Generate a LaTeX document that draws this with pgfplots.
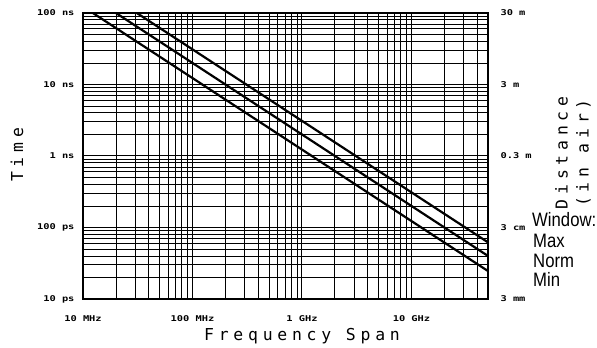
\documentclass[border=0pt]{standalone}
\usepackage{fontspec}
\usepackage{pgfplots}
\pgfplotsset{compat=1.18}
\setmainfont{Liberation Sans}
\newfontfamily\tickfont{DejaVu Sans Mono Bold}[FakeStretch=1.3]
\newfontfamily\titlefont{DejaVu Sans Mono}[LetterSpace=29]
\newfontfamily\legfont{Liberation Sans}[FakeStretch=0.86]
\begin{document}
\begin{tikzpicture}[x=1bp,y=1bp]
\path[use as bounding box] (0bp,0bp) rectangle (597bp,348bp);
\begin{axis}[at={(83bp,49bp)}, anchor=south west, width=405bp, height=286bp, scale only axis,
  xmode=log, ymode=log, xmin=10, xmax=50000, ymin=0.01, ymax=100,
  xtick={10,100,1000,10000}, xticklabels={10 MHz,100 MHz,1 GHz,10 GHz},
  ytick={0.01,0.1,1,10,100}, yticklabels={10 ps,100 ps,1 ns,10 ns,100 ns},
  minor xtick={20,30,40,50,60,70,80,90,200,300,400,500,600,700,800,900,2000,3000,4000,5000,6000,7000,8000,9000,20000,30000,40000},
  minor ytick={0.02,0.03,0.04,0.05,0.06,0.07,0.08,0.09,0.2,0.3,0.4,0.5,0.6,0.7,0.8,0.9,2,3,4,5,6,7,8,9,20,30,40,50,60,70,80,90},
  grid=both, major grid style={black, line width=1bp}, minor grid style={black, line width=0.9bp},
  major tick length=0pt, minor tick length=0pt,
  axis line style={black, line width=1.1bp},
  ticklabel style={font=\tickfont\fontsize{8}{9}\selectfont},
  xticklabel style={yshift=-13bp},
  yticklabel style={xshift=-5bp},
  clip=true]
\addplot[black, line width=2.2bp] coordinates {(12.3,100) (50000,0.0246)};
\addplot[black, line width=2.2bp] coordinates {(20,100) (50000,0.04)};
\addplot[black, line width=2.2bp] coordinates {(31,100) (50000,0.062)};
\end{axis}
\begin{axis}[at={(83bp,49bp)}, anchor=south west, width=405bp, height=286bp, scale only axis,
  ymode=log, ymin=0.01, ymax=100, xmin=0, xmax=1,
  hide x axis, axis y line*=right, axis line style={draw=none},
  ytick={0.01,0.1,1,10,100}, yticklabels={3 mm,3 cm,0.3 m,3 m,30 m},
  major tick length=0pt, minor tick length=0pt,
  ticklabel style={font=\tickfont\fontsize{8}{9}\selectfont},
  yticklabel style={anchor=west, xshift=9bp}]
\addplot[draw=none] coordinates {(0.5,1)};
\end{axis}
\node[rotate=90, font=\titlefont\fontsize{16.5}{16.5}\selectfont] at (17bp,193bp) {Time};
\node[anchor=base, font=\titlefont\fontsize{16.5}{16.5}\selectfont] at (302bp,8bp) {Frequency Span};
\node[rotate=90, align=center, font=\titlefont\fontsize{16.5}{21}\selectfont] at (573bp,195bp) {Distance\\(in air)};
\node[anchor=base west, inner sep=0pt, font=\legfont\fontsize{19.5}{20}\selectfont] at (532bp,121bp) {Window:};
\node[anchor=base west, inner sep=0pt, font=\legfont\fontsize{19.5}{20}\selectfont] at (533bp,100bp) {Max};
\node[anchor=base west, inner sep=0pt, font=\legfont\fontsize{19.5}{20}\selectfont] at (533bp,80bp) {Norm};
\node[anchor=base west, inner sep=0pt, font=\legfont\fontsize{19.5}{20}\selectfont] at (533bp,61bp) {Min};
\end{tikzpicture}
\end{document}
